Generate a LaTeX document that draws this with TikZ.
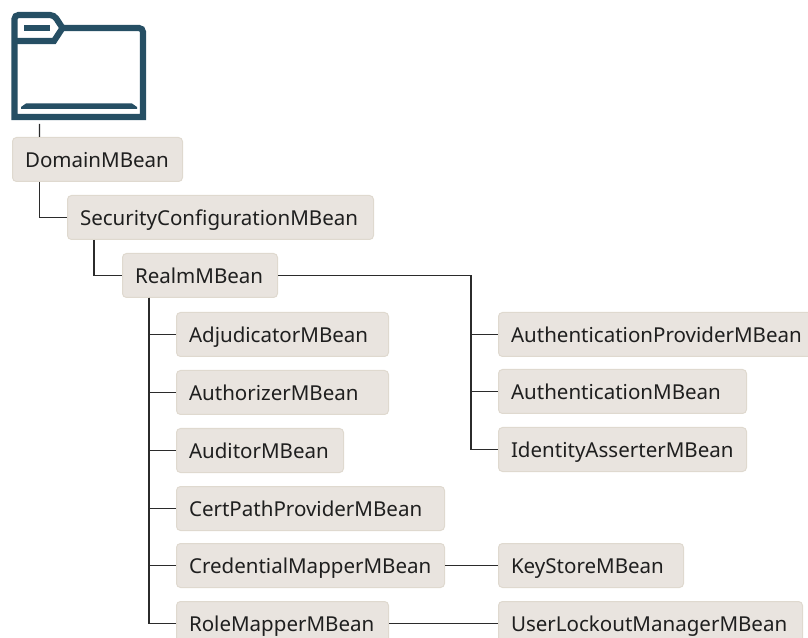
\documentclass[tikz,border=0pt]{standalone}
\usepackage{fontspec}
\setmainfont{Noto Sans}
\definecolor{boxfill}{HTML}{E9E4DF}
\definecolor{boxline}{HTML}{DFD9CF}
\definecolor{folder}{HTML}{264F64}
\definecolor{wire}{HTML}{2B2B2B}
\tikzset{
  mbean/.style={draw=boxline,fill=boxfill,rounded corners=3pt,line width=0.75pt,anchor=north west,
    minimum height=33pt,inner xsep=9.4pt,inner ysep=0pt,text=black!88,text height=14pt,text depth=2.2pt,
    font=\fontsize{15.4pt}{18pt}\selectfont,align=left},
  wirel/.style={draw=wire,line width=0.8pt},
  foldl/.style={draw=folder,line width=4.6pt,line join=miter}
}
\newcommand{\bx}[5]{\node[mbean,minimum width=#4*0.75pt,text width=#4*0.75pt-18.8pt] (#1) at (#2,#3) {#5};}
\begin{document}
\begin{tikzpicture}[x=0.75pt,y=-0.75pt]
\useasboundingbox (0,0) rectangle (808,638);
% folder
\draw[foldl] (14.5,117) -- (14.5,20) [rounded corners=3pt] -- (14.5,15) -- (54,15) [rounded corners=1pt] -- (62.5,28) [rounded corners=3pt] -- (143,28) [sharp corners] -- (143,117) -- cycle;
\draw[foldl] (14.5,41) -- (54,41) -- (62.5,28);
\fill[folder] (24,25) rectangle (50,31);
\fill[folder] (21,109) -- (21,107) -- (26,103.5) -- (132,103.5) -- (137,107) -- (137,109) -- cycle;
% boxes
\bx{domain}{12}{137}{170}{DomainMBean}
\bx{sec}{67}{195}{306}{SecurityConfigurationMBean}
\bx{realm}{122}{253}{155}{RealmMBean}
\bx{adj}{176}{312}{212}{AdjudicatorMBean}
\bx{authz}{176}{370}{212}{AuthorizerMBean}
\bx{audit}{176}{428}{167}{AuditorMBean}
\bx{cert}{176}{486}{268}{CertPathProviderMBean}
\bx{cred}{176}{543}{268}{CredentialMapperMBean}
\bx{role}{176}{601}{212}{RoleMapperMBean}
\bx{authp}{498}{312}{314}{AuthenticationProviderMBean}
\bx{authn}{498}{369}{248}{AuthenticationMBean}
\bx{ident}{498}{427}{248}{IdentityAsserterMBean}
\bx{key}{498}{543}{185}{KeyStoreMBean}
\bx{user}{498}{601}{304}{UserLockoutManagerMBean}
% connectors
\coordinate (folderfoot) at (39.5,124);
\coordinate (rx) at (471,0);
\coordinate (rbus) at (realm.east -| rx);
\draw[wirel] (folderfoot) -- ([xshift=20.6pt]domain.north west);
\draw[wirel] ([xshift=20.6pt]domain.south west) |- (sec.west);
\draw[wirel] ([xshift=20.25pt]sec.south west) |- (realm.west);
\draw[wirel] ([xshift=20.25pt]realm.south west) |- (adj.west);
\draw[wirel] ([xshift=20.25pt]realm.south west) |- (authz.west);
\draw[wirel] ([xshift=20.25pt]realm.south west) |- (audit.west);
\draw[wirel] ([xshift=20.25pt]realm.south west) |- (cert.west);
\draw[wirel] ([xshift=20.25pt]realm.south west) |- (cred.west);
\draw[wirel] ([xshift=20.25pt]realm.south west) |- (role.west);
\draw[wirel] (realm.east) -- (rbus) |- (authp.west);
\draw[wirel] (rbus) |- (authn.west);
\draw[wirel] (rbus) |- (ident.west);
\draw[wirel] (cred.east) -- (key.west);
\draw[wirel] (role.east) -- (user.west);
\end{tikzpicture}
\end{document}
